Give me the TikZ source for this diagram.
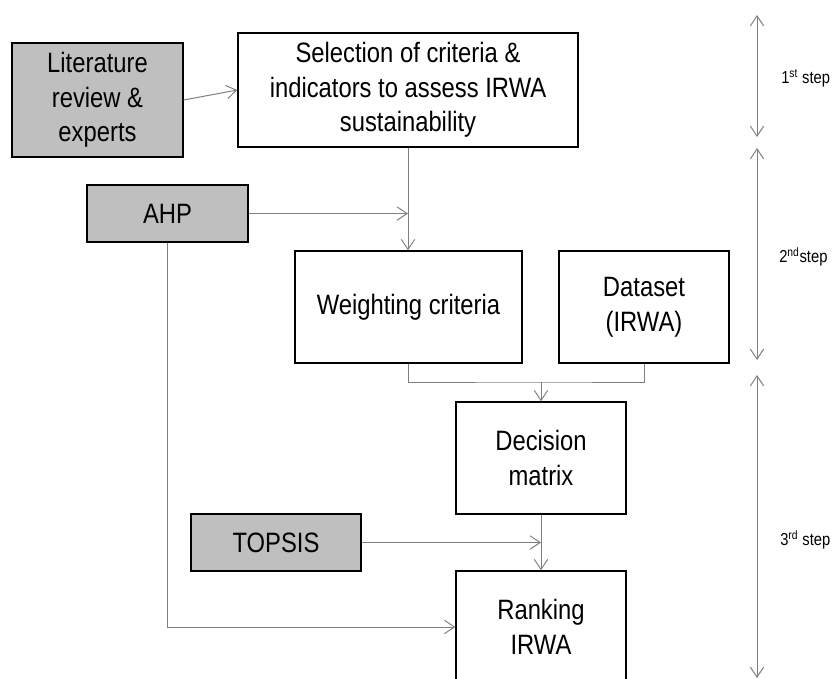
\documentclass[tikz,border=0pt]{standalone}
\usepackage{fontspec}
\setmainfont[FakeStretch=0.85]{Liberation Sans}
\usetikzlibrary{arrows.meta}
\definecolor{boxgrey}{RGB}{191,191,191}
\definecolor{linkgrey}{RGB}{128,128,128}

\begin{document}
\begin{tikzpicture}[x=0.75pt,y=-0.75pt,>={Straight Barb[length=7.5pt,width=10pt]}]
\tikzstyle{box}=[
  draw=black,
  line width=1pt,
  align=center,
  inner sep=2pt,
  font=\fontsize{21}{26}\selectfont ]
\tikzstyle{greybox}=[box, fill=boxgrey]
\tikzstyle{link}=[draw=linkgrey, line width=0.75pt]
\tikzstyle{steplabel}=[anchor=west, inner sep=0pt, font=\fontsize{13}{15}\selectfont]
\useasboundingbox (0,0) rectangle (840,679);
\clip (0,0) rectangle (840,679);
\node[greybox, minimum width=128.25pt, minimum height=85.5pt] (lit) at (97.5,100)
  {Literature\\review \&\\experts};
\node[box, minimum width=255pt, minimum height=85.5pt] (sel) at (408,90)
  {Selection of criteria \&\\indicators to assess IRWA\\sustainability};
\node[greybox, minimum width=120.75pt, minimum height=42.75pt] (ahp) at (167.5,213.5) {AHP};
\node[box, minimum width=170.25pt, minimum height=84pt] (weight) at (408.5,307) {Weighting criteria};
\node[box, minimum width=127.5pt, minimum height=84pt] (data) at (644,307) {Dataset\\(IRWA)};
\node[box, minimum width=127.5pt, minimum height=84pt] (dec) at (541,458) {Decision\\matrix};
\node[greybox, minimum width=127.5pt, minimum height=42.75pt] (topsis) at (276,542.5) {TOPSIS};
\node[box, minimum width=127.5pt, minimum height=84pt] (rank) at (541,627) {Ranking\\IRWA};
\coordinate (join) at (541,382);
\draw[link,->] (lit.east) -- (sel.west);
\draw[link,->] (sel.south) -- (sel.south |- weight.north);
\draw[link,->] (ahp.east) -- (ahp.east -| sel.south);
\draw[link] (weight.south) |- (join) -| (data.south);
\draw[link,->] (join) -- (dec.north);
\draw[link,->] (dec.south) -- (rank.north);
\draw[link,->] (topsis.east) -- (topsis.east -| dec.south);
\draw[link,->] (ahp.south) |- (rank.west);
\coordinate (s1a) at (757,15);
\coordinate (s1b) at (757,137);
\coordinate (s2a) at (757,148);
\coordinate (s2b) at (757,360);
\coordinate (s3a) at (757,375);
\coordinate (s3b) at (757,678);
\draw[link,<->] (s1a) -- (s1b);
\draw[link,<->] (s2a) -- (s2b);
\draw[link,<->] (s3a) -- (s3b);
\node[steplabel] (step1) at (781,78) {1\textsuperscript{st} step};
\node[steplabel] (step2) at (779,257) {2\textsuperscript{nd}step};
\node[steplabel] (step3) at (780,540) {3\textsuperscript{rd} step};
\end{tikzpicture}
\end{document}
